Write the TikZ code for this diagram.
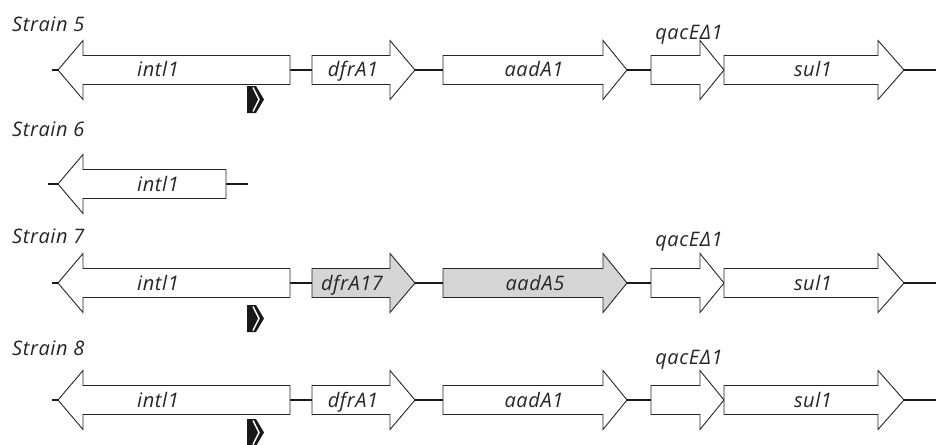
\documentclass[tikz,border=0pt]{standalone}
\usepackage{fontspec}
\setmainfont{Open Sans}[LetterSpace=3]
\begin{document}
\begin{tikzpicture}[x=1pt,y=-1pt,
  genebox/.style={draw=black!85,line width=0.9pt,fill=white,line join=miter},
  greygene/.style={genebox,fill=gray!33},
  backbone/.style={draw=black!90,line width=2.5pt},
  lbl/.style={font=\fontsize{20}{20}\selectfont\itshape,text=black!85,inner sep=0pt},
  strainlbl/.style={lbl,anchor=base west},
  genelbl/.style={lbl,anchor=base},
  marker/.style={fill=black!90,draw=none}]
\useasboundingbox (0,0) rectangle (936,444);
\fill[white] (0,0) rectangle (936,444);

% forward gene: #1 name, #2 left x, #3 head base x, #4 tip x, #5 centre y, #6 style
\newcommand{\fwdgene}[6]{%
  \path[#6] (#2,#5-14.5) -- (#3,#5-14.5) -- (#3,#5-29.5) -- (#4,#5) -- (#3,#5+29.5)
    -- (#3,#5+14.5) -- (#2,#5+14.5) -- cycle;
  \coordinate (#1-l) at (#2,#5);
  \coordinate (#1-r) at (#4,#5);}
% reverse gene: #1 name, #2 tip x, #3 head base x, #4 right x, #5 centre y
\newcommand{\revgene}[5]{%
  \path[genebox] (#4,#5-14.5) -- (#3,#5-14.5) -- (#3,#5-29.5) -- (#2,#5) -- (#3,#5+29.5)
    -- (#3,#5+14.5) -- (#4,#5+14.5) -- cycle;
  \coordinate (#1-l) at (#2,#5);
  \coordinate (#1-r) at (#4,#5);}
% promoter marker: #1 name, #2 left x, #3 top y
\newcommand{\promoter}[3]{%
  \fill[marker] (#2,#3) -- (#2+9,#3) -- (#2+17,#3+13.5) -- (#2+9,#3+27) -- (#2,#3+27) -- cycle;
  \draw[white,line width=1.4pt] (#2+6,#3+1.5) -- (#2+12,#3+13.5) -- (#2+6,#3+25.5);
  \coordinate (#1) at (#2,#3);}

% ---------- Strain 5 ----------
\node[strainlbl] (s5) at (12,31.5) {Strain 5};
\coordinate (a-start) at (52,70);
\coordinate (a-end) at (936,70);
\draw[backbone] (a-start) -- (a-end);
\revgene{a-int}{58}{83}{290}{70}
\fwdgene{a-dfr}{312}{390}{415}{70}{genebox}
\fwdgene{a-aad}{443}{603}{627}{70}{genebox}
\fwdgene{a-qac}{651}{700}{724}{70}{genebox}
\fwdgene{a-sul}{724}{878}{904}{70}{genebox}
\node[genelbl] (a-intt) at (158,77) {intl1};
\node[genelbl] (a-dfrt) at (353,77) {dfrA1};
\node[genelbl] (a-aadt) at (534,77) {aadA1};
\node[genelbl] (a-sult) at (813,77) {sul1};
\node[genelbl] (a-qact) at (689,40) {qacEΔ1};
\promoter{a-p}{247}{86}

% ---------- Strain 6 ----------
\node[strainlbl] (s6) at (12,136.5) {Strain 6};
\coordinate (b-start) at (48,184);
\coordinate (b-end) at (248,184);
\draw[backbone] (b-start) -- (b-end);
\revgene{b-int}{58}{83}{226}{184}
\node[genelbl] (b-intt) at (158,191) {intl1};

% ---------- Strain 7 ----------
\node[strainlbl] (s7) at (12,243) {Strain 7};
\coordinate (c-start) at (52,283);
\coordinate (c-end) at (936,283);
\draw[backbone] (c-start) -- (c-end);
\revgene{c-int}{58}{83}{290}{283}
\fwdgene{c-dfr}{312}{390}{415}{283}{greygene}
\fwdgene{c-aad}{443}{603}{627}{283}{greygene}
\fwdgene{c-qac}{651}{700}{724}{283}{genebox}
\fwdgene{c-sul}{724}{878}{904}{283}{genebox}
\node[genelbl] (c-intt) at (158,290) {intl1};
\node[genelbl] (c-dfrt) at (352,290) {dfrA17};
\node[genelbl] (c-aadt) at (535,290) {aadA5};
\node[genelbl] (c-sult) at (813,290) {sul1};
\node[genelbl] (c-qact) at (689,246) {qacEΔ1};
\promoter{c-p}{247}{305}

% ---------- Strain 8 ----------
\node[strainlbl] (s8) at (12,355) {Strain 8};
\coordinate (d-start) at (52,400);
\coordinate (d-end) at (936,400);
\draw[backbone] (d-start) -- (d-end);
\revgene{d-int}{58}{83}{290}{400}
\fwdgene{d-dfr}{312}{390}{415}{400}{genebox}
\fwdgene{d-aad}{443}{603}{627}{400}{genebox}
\fwdgene{d-qac}{651}{700}{724}{400}{genebox}
\fwdgene{d-sul}{724}{878}{904}{400}{genebox}
\node[genelbl] (d-intt) at (158,407) {intl1};
\node[genelbl] (d-dfrt) at (353,407) {dfrA1};
\node[genelbl] (d-aadt) at (534,407) {aadA1};
\node[genelbl] (d-sult) at (813,407) {sul1};
\node[genelbl] (d-qact) at (689,364) {qacEΔ1};
\promoter{d-p}{247}{419}
\end{tikzpicture}
\end{document}
